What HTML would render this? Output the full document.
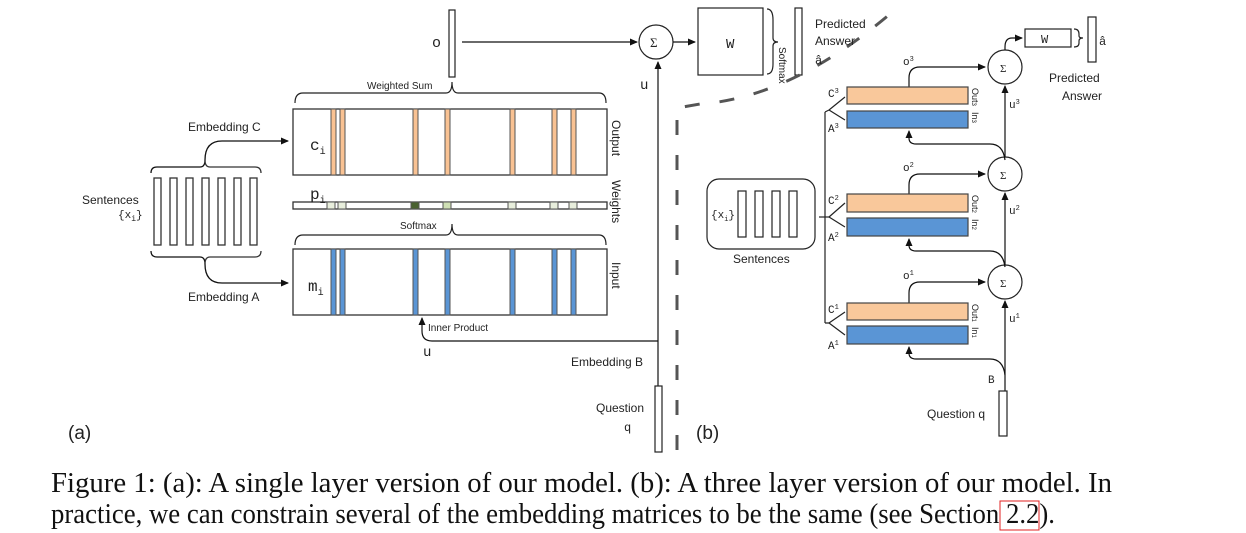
<!DOCTYPE html>
<html><head><meta charset="utf-8"><style>
html,body{margin:0;padding:0;background:#fff;}
svg{display:block;}
.s{font-family:"Liberation Sans",sans-serif;fill:#222;}
.m{font-family:"Liberation Mono",monospace;fill:#222;}
</style></head><body>
<svg width="1246" height="533" viewBox="0 0 1246 533" xmlns="http://www.w3.org/2000/svg">
<defs>
<marker id="ar" markerWidth="8" markerHeight="8" refX="7" refY="4" orient="auto" markerUnits="userSpaceOnUse">
<path d="M0,0.5 L8,4 L0,7.5 Z" fill="#111"/></marker>
</defs>
<g stroke="#333" stroke-width="1.3" fill="none">
<rect x="154" y="178" width="7" height="67" fill="#fff"/>
<rect x="170" y="178" width="7" height="67" fill="#fff"/>
<rect x="186" y="178" width="7" height="67" fill="#fff"/>
<rect x="202" y="178" width="7" height="67" fill="#fff"/>
<rect x="218" y="178" width="7" height="67" fill="#fff"/>
<rect x="234" y="178" width="7" height="67" fill="#fff"/>
<rect x="250" y="178" width="7" height="67" fill="#fff"/>
<path d="M151,173 Q151,167 157,167 L200,167 Q205,167 205,160 Q205,141 222,141 L288,141" stroke="#111" marker-end="url(#ar)"/>
<path d="M205,160 Q205,167 210,167 L255,167 Q261,167 261,173"/>
<path d="M151,251 Q151,257 157,257 L200,257 Q205,257 205,264 Q205,283 222,283 L288,283" stroke="#111" marker-end="url(#ar)"/>
<path d="M205,264 Q205,257 210,257 L255,257 Q261,257 261,251"/>
<rect x="293" y="109" width="314" height="66" fill="#fff"/>
<rect x="293" y="202" width="314" height="7" fill="#fff"/>
<rect x="293" y="249" width="314" height="66" fill="#fff"/>
</g>
<g stroke="#555" stroke-width="1">
<rect x="331" y="109" width="5" height="66" fill="#f9c293"/>
<rect x="340" y="109" width="5" height="66" fill="#f9c293"/>
<rect x="413" y="109" width="5" height="66" fill="#f9c293"/>
<rect x="445" y="109" width="5" height="66" fill="#f9c293"/>
<rect x="510" y="109" width="5" height="66" fill="#f9c293"/>
<rect x="552" y="109" width="5" height="66" fill="#f9c293"/>
<rect x="571" y="109" width="5" height="66" fill="#f9c293"/>
<rect x="331" y="249" width="5" height="66" fill="#5a95d5"/>
<rect x="340" y="249" width="5" height="66" fill="#5a95d5"/>
<rect x="413" y="249" width="5" height="66" fill="#5a95d5"/>
<rect x="445" y="249" width="5" height="66" fill="#5a95d5"/>
<rect x="510" y="249" width="5" height="66" fill="#5a95d5"/>
<rect x="552" y="249" width="5" height="66" fill="#5a95d5"/>
<rect x="571" y="249" width="5" height="66" fill="#5a95d5"/>
<rect x="327" y="202" width="8" height="7" fill="#e8eedc"/>
<rect x="338" y="202" width="8" height="7" fill="#e8eedc"/>
<rect x="411" y="202" width="8" height="7" fill="#4a6230"/>
<rect x="443" y="202" width="8" height="7" fill="#cfe0b4"/>
<rect x="508" y="202" width="8" height="7" fill="#e8eedc"/>
<rect x="550" y="202" width="8" height="7" fill="#e8eedc"/>
<rect x="569" y="202" width="8" height="7" fill="#e8eedc"/>
</g>
<g stroke="#222" stroke-width="1.2" fill="none">
<path d="M295,103 Q295,93 303,93 L446,93 Q452,93 452,82 Q452,93 458,93 L599,93 Q606,93 606,103"/>
<path d="M295,245 Q295,235 303,235 L446,235 Q452,235 452,224 Q452,235 458,235 L599,235 Q606,235 606,245"/>
<rect x="449" y="10" width="6" height="67" fill="#fff"/>
<line x1="462" y1="42" x2="637" y2="42" stroke="#111" marker-end="url(#ar)"/>
<circle cx="656" cy="42" r="17" fill="#fff"/>
<line x1="673" y1="42" x2="695" y2="42" stroke="#111" marker-end="url(#ar)"/>
<rect x="698" y="8" width="65" height="67" fill="#fff"/>
<path d="M767,9 Q773,9 773,20 L773,38 Q773,42 778,42 Q773,42 773,46 L773,64 Q773,74 767,74"/>
<rect x="795" y="8" width="7" height="67" fill="#fff"/>
<path d="M658,386 L658,62" stroke="#111" marker-end="url(#ar)"/>
<path d="M658,341 L432,341 Q422,341 422,331 L422,318" stroke="#111" marker-end="url(#ar)"/>
<rect x="655" y="386" width="7" height="66" fill="#fff"/>
</g>
<g stroke="#555" stroke-width="3" fill="none" stroke-dasharray="15,20">
<path d="M677,450 L677,108 L700,104 Q790,98 890,14"/>
</g>
<g class="s">
<text x="82" y="204" font-size="12">Sentences</text>
<text x="188" y="131" font-size="12">Embedding C</text>
<text x="188" y="301" font-size="12">Embedding A</text>
<text x="367" y="89" font-size="10">Weighted Sum</text>
<text x="400" y="229" font-size="10">Softmax</text>
<text x="428" y="331" font-size="10">Inner Product</text>
<text x="571" y="366" font-size="12">Embedding B</text>
<text x="596" y="412" font-size="12">Question</text>
<text x="68" y="439" font-size="19">(a)</text>
<text x="696" y="439" font-size="19">(b)</text>
<text x="815" y="28" font-size="12">Predicted</text>
<text x="815" y="45" font-size="12">Answer</text>
<text transform="translate(612,120) rotate(90)" font-size="12">Output</text>
<text transform="translate(612,180) rotate(90)" font-size="12">Weights</text>
<text transform="translate(612,262) rotate(90)" font-size="12">Input</text>
<text transform="translate(779,47) rotate(90)" font-size="10">Softmax</text>
</g>
<g class="m">
<text x="118" y="218" font-size="11">{x<tspan font-size="8" dy="3">i</tspan><tspan dy="-3">}</tspan></text>
<text x="310" y="150" font-size="16">c<tspan font-size="10" dy="4">i</tspan></text>
<text x="310" y="199" font-size="16">p<tspan font-size="10" dy="4">i</tspan></text>
<text x="308" y="291" font-size="16">m<tspan font-size="10" dy="4">i</tspan></text>
<text x="432" y="47" font-size="15">o</text>
<text x="640" y="89" font-size="14">u</text>
<text x="423" y="356" font-size="14">u</text>
<text x="624" y="431" font-size="12">q</text>
<text x="726" y="48" font-size="14">W</text>
<text x="815" y="64" font-size="12">â</text>
<text x="650" y="47" font-size="13" font-family="Liberation Serif">Σ</text>
</g>

<g stroke="#222" stroke-width="1.2" fill="none">
<rect x="707" y="179" width="108" height="70" rx="12" fill="#fff"/>
<rect x="738" y="191" width="8" height="46"/>
<rect x="755" y="191" width="8" height="46"/>
<rect x="772" y="191" width="8" height="46"/>
<rect x="789" y="191" width="8" height="46"/>
<path d="M825,112 L825,323"/>
<path d="M819,217 L829,217"/>
<path d="M829,110 L845,97 M829,110 L845,120"/>
<path d="M829,217 L845,203 M829,217 L845,227"/>
<path d="M829,323 L845,312 M829,323 L845,335"/>
<path d="M825,112 L829,110 M825,323 L829,323"/>
<circle cx="1005" cy="67" r="17" fill="#fff"/>
<circle cx="1005" cy="174" r="17" fill="#fff"/>
<circle cx="1005" cy="282" r="17" fill="#fff"/>
<path d="M909,87 L909,78 Q909,67 920,67 L985,67" marker-end="url(#ar)" stroke="#111"/>
<path d="M909,194 L909,185 Q909,174 920,174 L985,174" marker-end="url(#ar)" stroke="#111"/>
<path d="M909,303 L909,293 Q909,282 920,282 L985,282" marker-end="url(#ar)" stroke="#111"/>
<path d="M1005,157 L1005,86" marker-end="url(#ar)" stroke="#111"/>
<path d="M1005,265 L1005,193" marker-end="url(#ar)" stroke="#111"/>
<path d="M1005,391 L1005,301" marker-end="url(#ar)" stroke="#111"/>
<path d="M1005,160 Q1003,144 990,144 L916,144 Q909,144 909,138 L909,131" marker-end="url(#ar)" stroke="#111"/>
<path d="M1005,267 Q1003,251 990,251 L916,251 Q909,251 909,245 L909,239" marker-end="url(#ar)" stroke="#111"/>
<path d="M1005,375 Q1003,359 990,359 L916,359 Q909,359 909,353 L909,347" marker-end="url(#ar)" stroke="#111"/>
<path d="M1005,50 L1005,47 Q1005,38 1012,38 L1022,38" marker-end="url(#ar)" stroke="#111"/>
<rect x="1025" y="29" width="46" height="18" fill="#fff"/>
<path d="M1074,29 Q1079,29 1079,34 L1079,36 Q1079,38 1083,38 Q1079,38 1079,41 L1079,43 Q1079,47 1074,47"/>
<rect x="1088" y="17" width="8" height="45" fill="#fff"/>
<rect x="999" y="391" width="8" height="45" fill="#fff"/>
</g>
<g stroke="#444" stroke-width="1.2">
<rect x="847" y="87" width="121" height="17" fill="#f9c89b"/>
<rect x="847" y="111" width="121" height="17" fill="#5a95d5"/>
<rect x="847" y="194" width="121" height="18" fill="#f9c89b"/>
<rect x="847" y="218" width="121" height="18" fill="#5a95d5"/>
<rect x="847" y="303" width="121" height="17" fill="#f9c89b"/>
<rect x="847" y="326" width="121" height="18" fill="#5a95d5"/>
</g>
<g class="s">
<text x="733" y="263" font-size="12">Sentences</text>
<text x="927" y="418" font-size="12">Question q</text>
<text x="1049" y="82" font-size="12">Predicted</text>
<text x="1062" y="100" font-size="12">Answer</text>
<text transform="translate(972,88) rotate(90)" font-size="9">Out<tspan font-size="6">3</tspan></text>
<text transform="translate(972,112) rotate(90)" font-size="9">In<tspan font-size="6">3</tspan></text>
<text transform="translate(972,195) rotate(90)" font-size="9">Out<tspan font-size="6">2</tspan></text>
<text transform="translate(972,219) rotate(90)" font-size="9">In<tspan font-size="6">2</tspan></text>
<text transform="translate(972,304) rotate(90)" font-size="9">Out<tspan font-size="6">1</tspan></text>
<text transform="translate(972,327) rotate(90)" font-size="9">In<tspan font-size="6">1</tspan></text>
</g>
<g class="m" font-size="11">
<text x="711" y="218">{x<tspan font-size="7" dy="3">i</tspan><tspan dy="-3">}</tspan></text>
<text x="828" y="97">C<tspan font-size="7" dy="-4">3</tspan></text>
<text x="828" y="132">A<tspan font-size="7" dy="-4">3</tspan></text>
<text x="828" y="204">C<tspan font-size="7" dy="-4">2</tspan></text>
<text x="828" y="241">A<tspan font-size="7" dy="-4">2</tspan></text>
<text x="828" y="313">C<tspan font-size="7" dy="-4">1</tspan></text>
<text x="828" y="349">A<tspan font-size="7" dy="-4">1</tspan></text>
<text x="903" y="65">o<tspan font-size="7" dy="-4">3</tspan></text>
<text x="903" y="171">o<tspan font-size="7" dy="-4">2</tspan></text>
<text x="903" y="279">o<tspan font-size="7" dy="-4">1</tspan></text>
<text x="1009" y="108">u<tspan font-size="7" dy="-4">3</tspan></text>
<text x="1009" y="214">u<tspan font-size="7" dy="-4">2</tspan></text>
<text x="1009" y="322">u<tspan font-size="7" dy="-4">1</tspan></text>
<text x="988" y="383">B</text>
<text x="1041" y="43" font-size="12">W</text>
<text x="1099" y="45" font-size="12">â</text>
<text x="1000" y="72" font-size="11" font-family="Liberation Serif">Σ</text>
<text x="1000" y="179" font-size="11" font-family="Liberation Serif">Σ</text>
<text x="1000" y="287" font-size="11" font-family="Liberation Serif">Σ</text>
</g>

<g font-family="Liberation Serif, serif" font-size="28" fill="#111">
<text x="51" y="492" textLength="1061" lengthAdjust="spacingAndGlyphs">Figure 1: (a): A single layer version of our model. (b): A three layer version of our model. In</text>
<text x="51" y="523" textLength="1004" lengthAdjust="spacingAndGlyphs">practice, we can constrain several of the embedding matrices to be the same (see Section 2.2).</text>
</g>
<rect x="1000" y="501" width="39" height="29" fill="none" stroke="#e02020" stroke-width="1"/>
</svg>
</body></html>
